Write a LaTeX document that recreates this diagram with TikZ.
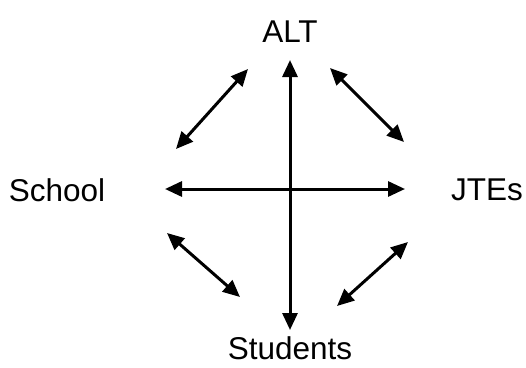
\documentclass[tikz,border=0pt]{standalone}
\usepackage{fontspec}
\setmainfont{Liberation Sans}
\usetikzlibrary{arrows.meta}
\begin{document}
\begin{tikzpicture}[x=1pt,y=-1pt,
  lbl/.style={font=\fontsize{31.5}{36}\selectfont, inner sep=0pt},
  dbl/.style={line width=3pt, {Triangle[length=17pt,width=15pt]}-{Triangle[length=17pt,width=15pt]}}]
\useasboundingbox (0,0) rectangle (526,367);
\node[lbl] (alt) at (290,32) {ALT};
\node[lbl] (school) at (57,190) {School};
\node[lbl] (jtes) at (487,190) {JTEs};
\node[lbl, anchor=base] (stud) at (290,359) {Students};
\coordinate (vt) at (290,60);
\coordinate (vb) at (290,330);
\coordinate (hl) at (165,189);
\coordinate (hr) at (405,189);
\coordinate (tl1) at (248,69);
\coordinate (tl2) at (176,149);
\coordinate (tr1) at (330,68);
\coordinate (tr2) at (404,142);
\coordinate (bl1) at (167,233);
\coordinate (bl2) at (240,297);
\coordinate (br1) at (408,242);
\coordinate (br2) at (337,306);
\draw[dbl] (vt) -- (vb);
\draw[dbl] (hl) -- (hr);
\draw[dbl] (tl1) -- (tl2);
\draw[dbl] (tr1) -- (tr2);
\draw[dbl] (bl1) -- (bl2);
\draw[dbl] (br1) -- (br2);
\end{tikzpicture}
\end{document}
